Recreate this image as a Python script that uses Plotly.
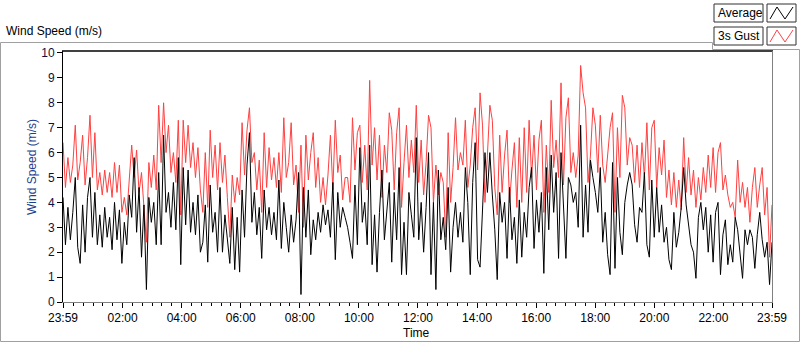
import plotly.graph_objects as go
import pandas as pd

# ---- data (~5 min samples from 23:59 to 23:59) ----
gust = [
    6.4, 4.6, 5.8, 4.8, 5.5, 7.1, 4.9, 5.6, 6.7, 4.7, 5.8, 7.5, 5.0, 6.8, 4.5, 5.2, 4.3, 5.3, 4.4, 5.2,
    4.2, 5.6, 4.4, 5.5, 3.6, 4.2, 3.5, 5.1, 6.3, 5.0, 6.1, 4.4, 5.2, 3.8, 2.4, 5.6, 4.6, 5.9, 4.5, 7.9,
    5.6, 8.0, 6.0, 7.1, 5.2, 6.0, 4.8, 7.3, 3.5, 7.3, 5.6, 7.1, 5.4, 6.4, 5.0, 6.2, 4.5, 3.6,
    6.0, 3.8, 6.9, 5.0, 6.3, 4.5, 6.4, 4.8, 5.9, 4.2, 2.6, 5.1, 4.0, 5.0, 4.3, 7.2, 5.1, 6.9, 7.8, 5.6,
    6.0, 4.5, 5.7, 3.6, 6.8, 4.6, 6.2, 4.9, 5.8, 4.6, 6.0, 4.4, 7.4, 5.0, 5.6, 7.2, 4.7, 5.5, 3.6, 6.3,
    3.0, 6.7, 4.9, 6.0, 6.8, 4.6, 5.8, 4.0, 5.0, 3.9, 5.1, 6.7, 4.5, 7.3, 5.2, 5.9, 4.1, 5.0,
    5.0, 4.0, 7.4, 5.3, 6.8, 7.1, 4.8, 6.3, 4.5, 8.9, 5.5, 7.0, 4.9, 6.7, 4.2, 6.3, 5.2, 7.6, 6.9, 4.5,
    6.8, 7.8, 3.8, 5.6, 7.1, 5.0, 6.5, 5.2, 7.9, 4.8, 6.5, 4.3, 5.6, 7.5, 7.0, 4.0, 5.5, 4.3, 5.2, 4.8,
    2.6, 6.8, 4.0, 5.4, 7.4, 5.3, 6.0, 5.5, 7.3, 4.6, 5.5, 7.0, 7.8, 5.3, 8.4, 7.1, 4.0, 5.9,
    7.9, 7.3, 4.6, 3.5, 6.7, 4.4, 5.9, 6.9, 4.0, 5.3, 6.4, 3.8, 6.6, 4.0, 7.0, 4.4, 7.3, 5.0, 6.7, 4.5,
    6.5, 7.3, 3.6, 6.3, 4.4, 8.1, 5.4, 6.5, 5.0, 8.8, 4.7, 7.4, 8.2, 5.2, 6.0, 5.0, 5.9, 9.5, 8.4, 7.8,
    4.8, 5.9, 7.8, 7.1, 5.2, 7.5, 5.5, 4.8, 6.0, 7.0, 7.6, 3.6, 7.0, 5.0, 8.3, 7.8, 5.5, 6.6,
    6.3, 4.8, 6.3, 4.6, 6.4, 5.0, 7.2, 4.5, 7.0, 7.3, 4.6, 6.2, 5.1, 6.5, 4.2, 5.3, 3.9, 5.2, 3.8, 4.9,
    3.7, 6.6, 4.4, 5.8, 4.3, 5.3, 3.8, 5.0, 4.1, 5.4, 4.4, 5.9, 4.6, 6.2, 4.4, 6.0, 6.4, 4.5, 5.1, 4.3,
    3.8, 4.0, 3.4, 5.7, 4.0, 4.8, 3.8, 4.6, 3.2, 4.6, 5.4, 3.8, 4.7, 5.4, 3.5, 4.6, 1.8, 3.9,
]
average = [
    4.2, 2.3, 3.8, 2.5, 3.6, 5.0, 2.2, 1.55, 3.9, 2.0, 4.2, 5.0, 2.6, 4.4, 2.3, 3.5, 2.2, 3.8, 2.6, 3.4,
    2.1, 4.0, 2.5, 3.7, 1.55, 3.2, 2.3, 4.3, 3.4, 5.8, 2.8, 4.6, 1.8, 3.9, 0.5, 4.2, 3.2, 4.0, 2.3, 5.2,
    2.3, 6.7, 3.6, 4.4, 3.0, 4.8, 2.9, 5.8, 1.5, 5.4, 3.1, 5.3, 2.8, 4.0, 2.7, 4.3, 2.0, 2.4,
    3.9, 1.6, 4.7, 2.8, 3.6, 2.0, 4.6, 2.0, 3.5, 2.6, 1.55, 3.8, 1.3, 3.4, 1.2, 4.5, 2.6, 5.5, 6.8, 3.2,
    4.4, 2.7, 3.8, 1.75, 4.5, 2.9, 3.8, 2.7, 3.6, 2.5, 4.9, 2.15, 4.0, 3.0, 2.0, 3.5, 2.4, 3.3, 5.2, 0.3,
    4.6, 2.6, 4.5, 1.9, 3.3, 2.5, 3.6, 2.8, 3.9, 3.1, 3.7, 2.6, 4.8, 1.7, 4.4, 3.0, 3.8, 3.4,
    3.0, 2.4, 1.75, 4.7, 2.3, 6.2, 3.2, 4.0, 2.3, 6.3, 1.5, 3.5, 1.2, 3.6, 5.3, 2.5, 3.8, 4.8, 1.6, 4.4,
    2.5, 5.4, 1.1, 3.2, 1.1, 4.4, 3.5, 2.6, 6.6, 2.5, 4.0, 2.0, 3.8, 6.0, 1.1, 4.0, 0.5, 5.3, 2.5, 3.4,
    2.1, 4.6, 1.2, 3.0, 4.0, 2.6, 3.6, 2.4, 5.4, 4.0, 1.1, 4.8, 6.4, 1.7, 1.4, 4.0, 6.0, 4.4,
    6.0, 4.3, 2.9, 0.9, 4.4, 3.2, 4.0, 1.75, 4.6, 2.5, 3.4, 1.55, 4.1, 1.8, 3.6, 2.6, 4.6, 5.4, 2.15, 4.1,
    2.8, 4.4, 1.15, 5.4, 2.9, 5.9, 3.6, 5.2, 1.75, 6.0, 3.8, 1.75, 5.0, 4.7, 4.0, 4.4, 3.0, 7.1, 2.6, 4.7,
    2.8, 5.7, 5.0, 4.4, 3.6, 5.4, 2.4, 3.6, 1.9, 1.1, 5.6, 1.35, 5.0, 2.8, 1.9, 4.0, 4.7, 5.2,
    4.7, 3.1, 2.4, 3.8, 3.6, 5.2, 2.3, 1.8, 4.9, 2.6, 4.6, 2.8, 3.9, 2.4, 3.0, 1.7, 1.3, 3.6, 2.2, 2.8,
    3.8, 5.4, 3.9, 3.1, 2.3, 2.0, 0.95, 3.4, 4.0, 2.9, 3.8, 2.0, 3.5, 1.6, 3.6, 4.0, 1.1, 2.7, 3.3, 1.5,
    2.3, 1.6, 3.4, 2.9, 2.0, 0.95, 2.9, 2.3, 2.9, 2.6, 1.35, 2.7, 3.6, 2.5, 1.8, 2.4, 0.7, 2.4,
]
start_time = "2024-01-01 23:59"
end_time = "2024-01-02 23:59"
tick_labels = ["23:59", "02:00", "04:00", "06:00", "08:00", "10:00", "12:00",
               "14:00", "16:00", "18:00", "20:00", "22:00", "23:59"]
y_ticks = list(range(0, 11))

times = pd.date_range(start_time, end_time, periods=len(gust))
tick_vals = [pd.Timestamp(start_time)] + [
    pd.Timestamp("2024-01-02 " + t) for t in tick_labels[1:-1]] + [pd.Timestamp(end_time)]

# ---- figure geometry helpers (pixel -> paper) ----
L, R, T, B = 63, 772, 51, 302
W, H = 800, 342
def px(x):
    return (x - L) / (R - L)
def py(y):
    return (B - y) / (B - T)

FONT = "Liberation Sans, Arial, sans-serif"

fig = go.Figure()
fig.add_trace(go.Scatter(x=times, y=gust, mode="lines", name="3s Gust",
                         line=dict(color="#ff4040", width=1), showlegend=False))
fig.add_trace(go.Scatter(x=times, y=average, mode="lines", name="Average",
                         line=dict(color="#000000", width=1), showlegend=False))

shapes = []
frame_path = (f"M {px(0.5)},{py(42.5)} L {px(712.5)},{py(42.5)} L {px(712.5)},{py(49.5)} "
              f"L {px(799.5)},{py(49.5)} L {px(799.5)},{py(341.5)} L {px(0.5)},{py(341.5)} Z")
shapes.append(dict(type="path", xref="paper", yref="paper", path=frame_path,
                   line=dict(color="#a0a0a0", width=1), layer="below"))
shapes.append(dict(type="line", xref="paper", yref="paper", x0=px(62), x1=px(773), y0=py(51), y1=py(51),
                   line=dict(color="#000000", width=1.5)))
shapes.append(dict(type="line", xref="paper", yref="paper", x0=px(772.5), x1=px(772.5), y0=py(51), y1=py(303),
                   line=dict(color="#808080", width=1)))
for (y0, y1, col) in [(4, 22, "#000000"), (27, 45, "#ff4040")]:
    shapes.append(dict(type="rect", xref="paper", yref="paper", x0=px(714), x1=px(763), y0=py(y1), y1=py(y0),
                       line=dict(color="#303030", width=1), fillcolor="#ffffff"))
    shapes.append(dict(type="rect", xref="paper", yref="paper", x0=px(767), x1=px(796), y0=py(y1), y1=py(y0),
                       line=dict(color="#303030", width=1), fillcolor="#ffffff"))
    zz = (f"M {px(770)},{py(y1-3)} L {px(777)},{py(y0+3)} L {px(785)},{py(y1-3)} L {px(793)},{py(y0+3)}")
    shapes.append(dict(type="path", xref="paper", yref="paper", path=zz, line=dict(color=col, width=1)))

annotations = [
    dict(text="Wind Speed (m/s)", xref="paper", yref="paper", x=px(4), y=py(31), xanchor="left",
         yanchor="middle", showarrow=False, font=dict(family=FONT, size=12, color="#000000")),
    dict(text="Average", xref="paper", yref="paper", x=px(716), y=py(13), xanchor="left",
         yanchor="middle", showarrow=False, font=dict(family=FONT, size=12, color="#000000")),
    dict(text="3s Gust", xref="paper", yref="paper", x=px(716), y=py(36), xanchor="left",
         yanchor="middle", showarrow=False, font=dict(family=FONT, size=12, color="#000000")),
    dict(text="Wind Speed (m/s)", xref="paper", yref="paper", x=px(32), y=py(167), textangle=-90,
         xanchor="center", yanchor="middle", showarrow=False,
         font=dict(family=FONT, size=12, color="#1f3f8f")),
    dict(text="Time", xref="paper", yref="paper", x=px(416), y=py(333), xanchor="center",
         yanchor="middle", showarrow=False, font=dict(family=FONT, size=12, color="#000000")),
]

fig.update_layout(
    width=W, height=H,
    margin=dict(l=L, r=W - R, t=T, b=H - B, autoexpand=False),
    paper_bgcolor="#ffffff", plot_bgcolor="#ffffff",
    font=dict(family=FONT, size=12, color="#000000"),
    shapes=shapes, annotations=annotations,
    xaxis=dict(
        type="date", range=[start_time, end_time], automargin=False,
        tickmode="array", tickvals=tick_vals, ticktext=tick_labels,
        ticks="outside", ticklen=5, tickcolor="#000000",
        showgrid=False, zeroline=False, showline=True, linecolor="#808080", linewidth=1,
        tickfont=dict(family=FONT, size=12, color="#000000"),
        minor=dict(ticks="outside", ticklen=3, tickcolor="#000000",
                   dtick=20 * 60 * 1000, tick0="2024-01-01 00:00", showgrid=False),
    ),
    yaxis=dict(
        range=[0, 10.08], tickmode="array", tickvals=y_ticks, automargin=False,
        ticks="outside", ticklen=5, tickcolor="#000000",
        showgrid=False, zeroline=False, showline=True, linecolor="#000000", linewidth=1,
        tickfont=dict(family=FONT, size=12, color="#101040"),
    ),
)

fig.write_html("out.html", config={"displayModeBar": False},
               post_script="document.body.style.margin='0';document.body.style.overflow='hidden';")
